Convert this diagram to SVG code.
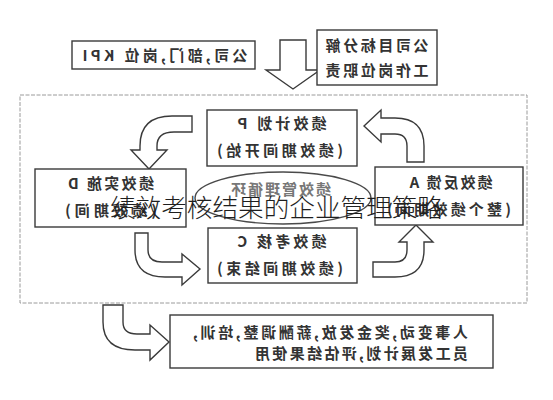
<svg xmlns="http://www.w3.org/2000/svg" width="553" height="400" viewBox="0 0 553 400">
<style>
.box{fill:#fff;stroke:#3a3a3a;stroke-width:1.4}
.arr{fill:#fff;stroke:#3a3a3a;stroke-width:1.4;stroke-linejoin:miter}
.frame{fill:none;stroke:#9a9a9a;stroke-width:1;stroke-dasharray:4 1.5}
.t{font-family:"Noto Sans CJK SC","Noto Sans CJK JP",sans-serif;font-size:15px;font-weight:700;fill:#333;text-anchor:middle}
.ts{font-family:"Noto Sans CJK SC","Noto Sans CJK JP",sans-serif;font-size:15px;font-weight:700;fill:#333;text-anchor:start}
.title{font-family:"Noto Sans CJK SC","Noto Sans CJK JP",sans-serif;font-size:25px;font-weight:300;fill:#1e1e1e}
</style>
<rect width="553" height="400" fill="#fff"/>
<rect class="frame" x="20" y="95" width="507" height="208"/>

<g id="connectors">
<path class="arr" d="M280,40 L306,40 L306,70 L320,70 L293,89 L266,70 L280,70 Z"/>
<path class="arr" d="M192,116 L172,116 Q140,116 140,146 L140,150 L131,150 L149,169 L167,150 L157,150 L157,146 Q157,132 174,132 L192,132 Z"/>
<path class="arr" d="M407,162 L407,146 Q407,134 395,134 L381,134 L381,142 L364,126 L381,110 L381,118 L395,118 Q424,118 424,146 L424,162 Z"/>
<path class="arr" d="M135,233 L148,233 L148,250 Q148,262 162,262 L182,262 L182,254 L200,269 L182,285 L182,277 L165,277 Q135,277 135,250 Z"/>
<path class="arr" d="M373,262 L395,262 Q407,262 407,250 L407,242 L399,242 L416,225 L433,242 L424,242 L424,250 Q424,277 395,277 L373,277 Z"/>
<path class="arr" d="M103,305 L123,305 L123,322 Q123,334 137,334 L150,334 L150,325 L169,342 L150,360 L150,350 L135,350 Q103,350 103,322 Z"/>
</g>

<g id="kpi">
<rect class="box" x="72" y="41" width="183" height="28"/>
<text class="t" transform="translate(165,0) scale(-1,1)" x="0" y="61" textLength="165" lengthAdjust="spacing">公司,部门,岗位 KPI</text>
</g>

<g id="goal">
<rect class="box" x="317" y="30" width="120" height="55"/>
<text class="t" transform="translate(377,0) scale(-1,1)" x="0" y="51" textLength="103" lengthAdjust="spacing">公司目标分解</text>
<text class="t" transform="translate(377,0) scale(-1,1)" x="0" y="76" textLength="103" lengthAdjust="spacing">工作岗位职责</text>
</g>

<g id="cycle">
<ellipse cx="283" cy="198" rx="88" ry="26" fill="#fff" stroke="#4a4a4a" stroke-width="1.4"/>
<text class="t" transform="translate(281,0) scale(-1,1)" x="0" y="195" style="fill:#777" textLength="100" lengthAdjust="spacing">绩效管理循环</text>
</g>

<g id="plan">
<rect class="box" x="207" y="110" width="150" height="56"/>
<text class="t" transform="translate(282,0) scale(-1,1)" x="0" y="129" textLength="89" lengthAdjust="spacing">绩效计划 P</text>
<text class="t" transform="translate(280,0) scale(-1,1)" x="0" y="156" textLength="126" lengthAdjust="spacing">(绩效期间开始)</text>
</g>

<g id="do">
<rect class="box" x="35" y="169" width="151" height="58"/>
<text class="t" transform="translate(111,0) scale(-1,1)" x="0" y="189" textLength="86" lengthAdjust="spacing">绩效实施 D</text>
<text class="t" transform="translate(111,0) scale(-1,1)" x="0" y="216" textLength="92" lengthAdjust="spacing">(绩效期间)</text>
</g>

<g id="act">
<rect class="box" x="375" y="167" width="148" height="58"/>
<text class="t" transform="translate(451,0) scale(-1,1)" x="0" y="188" textLength="83" lengthAdjust="spacing">绩效反馈 A</text>
<text class="t" transform="translate(449,0) scale(-1,1)" x="0" y="215" textLength="124" lengthAdjust="spacing">(整个绩效期间)</text>
</g>

<g id="check">
<rect class="box" x="208" y="228" width="149" height="55"/>
<text class="t" transform="translate(282,0) scale(-1,1)" x="0" y="247" textLength="89" lengthAdjust="spacing">绩效考核 C</text>
<text class="t" transform="translate(280,0) scale(-1,1)" x="0" y="274" textLength="126" lengthAdjust="spacing">(绩效期间结束)</text>
</g>

<g id="result">
<rect class="box" x="170" y="315" width="323" height="53"/>
<text class="ts" transform="translate(468,0) scale(-1,1)" x="0" y="338" textLength="275" lengthAdjust="spacing">人事变动,奖金发放,薪酬调整,培训,</text>
<text class="ts" transform="translate(468,0) scale(-1,1)" x="0" y="359" textLength="213" lengthAdjust="spacing">员工发展计划,评估结果使用</text>
</g>

<text class="title" x="110" y="217" textLength="333" lengthAdjust="spacingAndGlyphs">绩效考核结果的企业管理策略</text>
</svg>
